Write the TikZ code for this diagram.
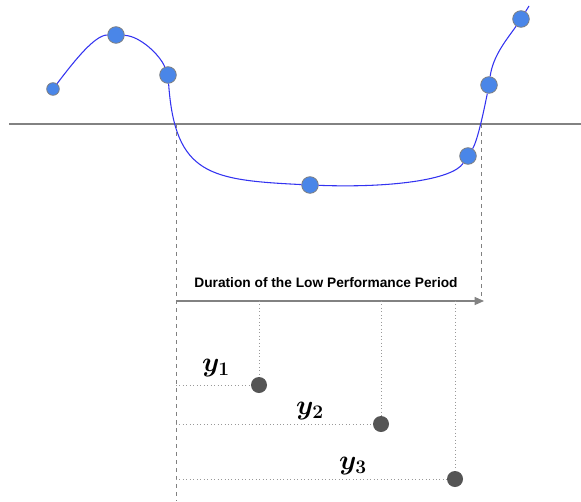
\documentclass[tikz,border=0pt]{standalone}
\usepackage{fontspec}
\usepackage{amsmath}
\newfontfamily\labelfont{Liberation Sans}
\usetikzlibrary{arrows.meta}

\definecolor{dotblue}{RGB}{74,134,232}
\definecolor{curveblue}{RGB}{51,51,240}
\definecolor{dotgray}{RGB}{85,85,85}
\definecolor{linegray}{RGB}{130,130,130}

\tikzset{
  bluedot/.style={circle, draw=gray, fill=dotblue, line width=0.6pt, inner sep=0pt, minimum size=12.5pt},
  graydot/.style={circle, fill=dotgray, inner sep=0pt, minimum size=12pt},
  guide/.style={dotted, line width=0.6pt, draw=gray!80},
  period/.style={dashed, line width=0.7pt, draw=gray},
  ylabel/.style={font=\fontsize{21}{23}\selectfont\boldmath}
}

\begin{document}
\begin{tikzpicture}[x=0.75pt, y=-0.75pt]

\useasboundingbox (0,0) rectangle (581,501);

%%%%%%%%%%%%%%%%%%%%%%%%%%%%%%%%%%%%%%%%%%%%%%%%%%%%%%
% AXIS
%%%%%%%%%%%%%%%%%%%%%%%%%%%%%%%%%%%%%%%%%%%%%%%%%%%%%%

\coordinate (axisL) at (9,124);
\coordinate (axisR) at (581,124);
\draw[linegray, line width=0.8pt] (axisL) -- (axisR);

%%%%%%%%%%%%%%%%%%%%%%%%%%%%%%%%%%%%%%%%%%%%%%%%%%%%%%
% PERFORMANCE CURVE
%%%%%%%%%%%%%%%%%%%%%%%%%%%%%%%%%%%%%%%%%%%%%%%%%%%%%%

\node[bluedot, minimum size=9.5pt] (d1) at (53,89) {};
\node[bluedot] (d2) at (116,35) {};
\node[bluedot] (d3) at (168,75) {};
\node[bluedot] (d4) at (310,185) {};
\node[bluedot] (d5) at (468,156) {};
\node[bluedot] (d6) at (489,85) {};
\node[bluedot] (d7) at (521,19) {};
\coordinate (tail) at (529,6);

\draw[curveblue, line width=0.8pt]
(d1) .. controls (75,60) and (95,35) .. (d2)
(d2) .. controls (140,36) and (160,55) .. (d3)
(d3) .. controls (175,175) and (210,180) .. (d4)
(d4) .. controls (390,188) and (452,180) .. (d5)
(d5) .. controls (478,140) and (485,105) .. (d6)
(d6) .. controls (493,55) and (508,38) .. (d7)
(d7) -- (tail);

%%%%%%%%%%%%%%%%%%%%%%%%%%%%%%%%%%%%%%%%%%%%%%%%%%%%%%
% LOW PERFORMANCE PERIOD
%%%%%%%%%%%%%%%%%%%%%%%%%%%%%%%%%%%%%%%%%%%%%%%%%%%%%%

\coordinate (startTop) at (176,124);
\coordinate (startBot) at (176,501);
\coordinate (endTop) at (481,124);
\coordinate (start) at (176,301);
\coordinate (stop) at (484,301);

\draw[period] (startTop) -- (startBot);
\draw[period] (endTop) -- (endTop |- start);

\draw[linegray, line width=0.9pt, -{Triangle[length=7pt,width=6pt]}]
(start) -- (stop);

\node[font=\labelfont\bfseries\fontsize{10.3}{12}\selectfont]
(duration) at (326,283)
{Duration of the Low Performance Period};

%%%%%%%%%%%%%%%%%%%%%%%%%%%%%%%%%%%%%%%%%%%%%%%%%%%%%%
% SAMPLES
%%%%%%%%%%%%%%%%%%%%%%%%%%%%%%%%%%%%%%%%%%%%%%%%%%%%%%

\node[graydot] (s1) at (259,385) {};
\node[graydot] (s2) at (381,424) {};
\node[graydot] (s3) at (455,479) {};

\foreach \s in {s1,s2,s3}{
  \draw[guide] (\s |- start) -- (\s);
  \draw[guide] (start |- \s) -- (\s);
}

\node[ylabel] (y1) at (216,368) {$y_{1}$};
\node[ylabel] (y2) at (310,411) {$y_{2}$};
\node[ylabel] (y3) at (353,466) {$y_{3}$};

\end{tikzpicture}
\end{document}
